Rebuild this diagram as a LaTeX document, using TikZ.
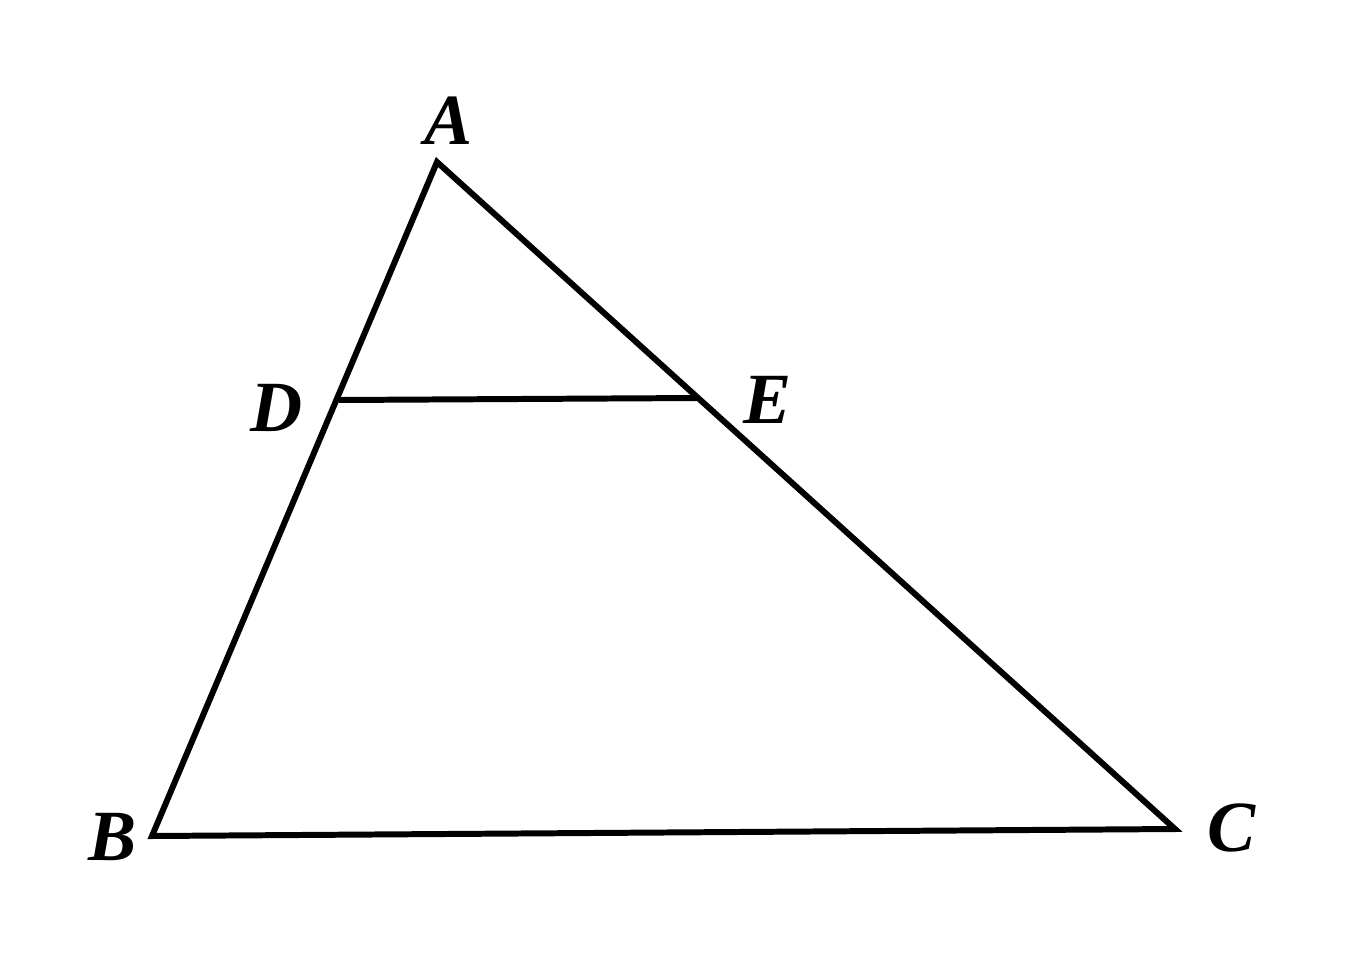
\documentclass[tikz,border=0pt]{standalone}
\usepackage{fontspec}
\setmainfont{Liberation Serif}
\begin{document}
\begin{tikzpicture}[x=0.01cm,y=-0.01cm,
  edge/.style={line width=1.7pt,line join=miter,line cap=butt},
  lbl/.style={font=\fontsize{20.5}{20.5}\selectfont\bfseries\itshape,inner sep=0pt}]
\useasboundingbox (0,0) rectangle (1357,963);
\coordinate (A) at (437,162);
\coordinate (B) at (152,836);
\coordinate (C) at (1175,829);
\coordinate (D) at (339,400);
\coordinate (E) at (697,398);
\draw[edge] (A) -- (B) -- (C) -- cycle;
\draw[edge] (D) -- (E);
\node[lbl] (lA) at (449,121) {A};
\node[lbl] (lB) at (113,837) {B};
\node[lbl] (lC) at (1232,828) {C};
\node[lbl] (lD) at (277,408) {D};
\node[lbl] (lE) at (768,400) {E};
\end{tikzpicture}
\end{document}
